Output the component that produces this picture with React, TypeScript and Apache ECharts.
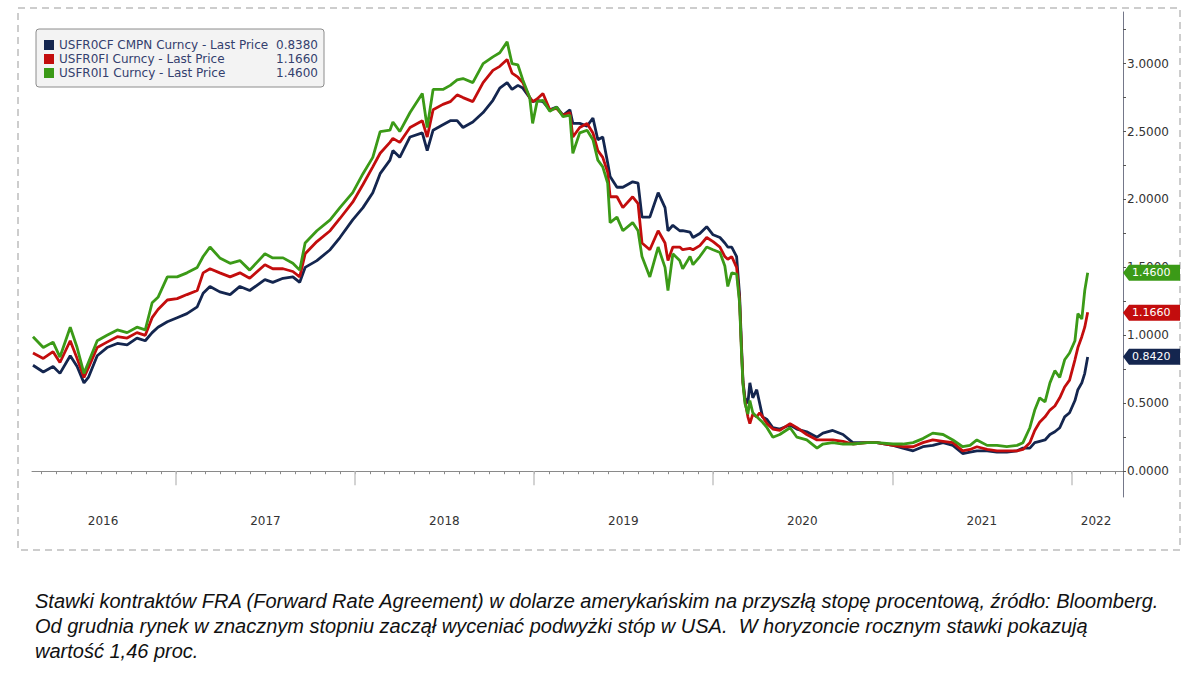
import React, { useEffect, useRef } from 'react';
import * as echarts from 'echarts';

const dates = [
  '2016-03-15','2016-04-05','2016-04-25','2016-05-09','2016-05-30','2016-06-13','2016-06-27','2016-07-06','2016-07-24','2016-08-13',
  '2016-09-03','2016-09-23','2016-10-13','2016-10-30','2016-11-13','2016-11-25','2016-12-14','2017-01-03','2017-01-23','2017-02-13',
  '2017-02-25','2017-03-11','2017-03-31','2017-04-21','2017-05-11','2017-05-31','2017-07-01','2017-07-17','2017-08-07','2017-08-27',
  '2017-09-10','2017-09-21','2017-10-15','2017-11-11','2017-12-01','2017-12-27','2018-01-17','2018-02-06','2018-02-21','2018-03-13',
  '2018-03-19','2018-04-02','2018-04-23','2018-05-18','2018-05-28','2018-06-09','2018-06-29','2018-07-14','2018-07-28','2018-08-09',
  '2018-08-29','2018-09-19','2018-10-09','2018-10-23','2018-11-07','2018-11-17','2018-11-29','2018-12-09','2018-12-23','2018-12-29',
  '2019-01-07','2019-01-19','2019-02-02','2019-02-16','2019-03-01','2019-03-15','2019-03-21','2019-04-04','2019-04-19','2019-05-01',
  '2019-05-11','2019-05-21','2019-05-31','2019-06-05','2019-06-19','2019-07-01','2019-07-21','2019-08-01','2019-08-09','2019-08-25',
  '2019-09-11','2019-09-25','2019-10-01','2019-10-11','2019-10-25','2019-10-31','2019-11-15','2019-11-21','2019-12-05','2019-12-19',
  '2020-01-01','2020-01-15','2020-01-25','2020-01-31','2020-02-08','2020-02-18','2020-02-24','2020-02-28','2020-03-02','2020-03-06',
  '2020-03-12','2020-03-16','2020-03-22','2020-03-30','2020-04-05','2020-04-11','2020-04-20','2020-05-02','2020-05-16','2020-06-06',
  '2020-06-20','2020-07-10','2020-07-31','2020-08-12','2020-09-01','2020-09-22','2020-10-12','2020-11-10','2020-11-30','2021-01-02',
  '2021-01-22','2021-02-12','2021-03-04','2021-03-24','2021-04-14','2021-05-04','2021-05-24','2021-06-08','2021-06-22','2021-07-13',
  '2021-08-02','2021-08-22','2021-09-12','2021-09-24','2021-10-08','2021-10-18','2021-10-28','2021-11-08','2021-11-18','2021-11-28',
  '2021-12-08','2021-12-18','2021-12-28','2022-01-08','2022-01-14','2022-01-22','2022-01-28','2022-02-03',
];

const navy = [
  0.78,0.73,0.77,0.72,0.85,0.77,0.65,0.69,0.85,0.91,
  0.94,0.93,0.98,0.96,1.02,1.06,1.10,1.13,1.16,1.21,
  1.31,1.36,1.32,1.30,1.36,1.33,1.41,1.39,1.42,1.43,
  1.39,1.50,1.55,1.63,1.72,1.85,1.94,2.05,2.19,2.29,
  2.36,2.31,2.46,2.49,2.36,2.51,2.55,2.58,2.58,2.53,
  2.57,2.64,2.73,2.82,2.86,2.81,2.84,2.82,2.75,2.72,
  2.73,2.72,2.66,2.68,2.62,2.66,2.56,2.56,2.54,2.60,
  2.44,2.46,2.27,2.17,2.09,2.09,2.13,2.12,1.87,1.87,
  2.05,1.94,1.77,1.81,1.77,1.77,1.76,1.72,1.75,1.80,
  1.74,1.72,1.68,1.65,1.65,1.58,1.30,0.92,0.66,0.54,
  0.50,0.65,0.54,0.60,0.50,0.40,0.38,0.32,0.31,0.34,
  0.31,0.29,0.25,0.28,0.30,0.27,0.21,0.21,0.21,0.19,
  0.17,0.15,0.18,0.19,0.21,0.19,0.13,0.14,0.15,0.15,
  0.14,0.14,0.15,0.17,0.17,0.21,0.22,0.23,0.27,0.29,
  0.32,0.40,0.43,0.52,0.60,0.65,0.72,0.84,
];

const red = [
  0.87,0.83,0.88,0.80,0.96,0.83,0.69,0.76,0.91,0.95,
  0.99,0.98,1.02,1.00,1.13,1.19,1.26,1.27,1.30,1.33,
  1.46,1.49,1.46,1.43,1.46,1.42,1.52,1.49,1.49,1.47,
  1.43,1.60,1.69,1.77,1.86,1.98,2.11,2.24,2.34,2.42,
  2.45,2.42,2.53,2.58,2.46,2.66,2.70,2.72,2.77,2.75,
  2.72,2.86,2.95,2.98,3.03,2.93,2.90,2.86,2.75,2.72,
  2.74,2.78,2.66,2.67,2.62,2.64,2.46,2.53,2.56,2.49,
  2.36,2.31,2.20,2.02,2.02,1.94,2.02,1.97,1.68,1.63,
  1.77,1.68,1.55,1.65,1.65,1.63,1.64,1.63,1.66,1.72,
  1.69,1.65,1.58,1.56,1.58,1.50,1.26,0.89,0.65,0.52,
  0.40,0.35,0.42,0.40,0.43,0.40,0.35,0.31,0.30,0.35,
  0.32,0.27,0.23,0.23,0.23,0.22,0.20,0.21,0.21,0.19,
  0.18,0.18,0.21,0.23,0.22,0.21,0.15,0.16,0.18,0.16,
  0.15,0.15,0.15,0.16,0.21,0.30,0.36,0.40,0.45,0.48,
  0.54,0.62,0.67,0.82,0.91,0.99,1.06,1.17,
];

const green = [
  0.99,0.91,0.95,0.84,1.06,0.91,0.72,0.80,0.96,1.00,
  1.04,1.02,1.06,1.04,1.24,1.28,1.43,1.43,1.46,1.50,
  1.58,1.65,1.57,1.53,1.55,1.48,1.60,1.57,1.57,1.53,
  1.48,1.68,1.77,1.85,1.94,2.05,2.19,2.31,2.50,2.51,
  2.57,2.50,2.64,2.78,2.53,2.81,2.81,2.84,2.88,2.89,
  2.86,3.00,3.05,3.08,3.16,3.00,2.99,2.88,2.75,2.56,
  2.72,2.73,2.65,2.68,2.61,2.62,2.34,2.49,2.51,2.44,
  2.29,2.24,2.12,1.83,1.87,1.77,1.83,1.77,1.58,1.43,
  1.65,1.50,1.33,1.60,1.55,1.49,1.58,1.52,1.58,1.65,
  1.63,1.61,1.51,1.36,1.46,1.45,1.24,0.87,0.64,0.50,
  0.42,0.52,0.43,0.40,0.38,0.36,0.32,0.25,0.27,0.32,
  0.25,0.23,0.17,0.20,0.21,0.20,0.20,0.21,0.21,0.20,
  0.20,0.21,0.24,0.28,0.27,0.23,0.18,0.19,0.23,0.19,
  0.19,0.18,0.19,0.21,0.32,0.45,0.54,0.51,0.65,0.74,
  0.69,0.82,0.87,0.96,1.16,1.12,1.33,1.46,
];

const seriesNames = [
  'USFR0CF CMPN Curncy - Last Price',
  'USFR0FI Curncy - Last Price',
  'USFR0I1 Curncy - Last Price',
];
const legendValues = ['0.8380', '1.1660', '1.4600'];
const tagValues = [0.842, 1.166, 1.46];
const tagLabels = ['0.8420', '1.1660', '1.4600'];
const colors = ['#14264f', '#c30d0d', '#3b9a17'];

const yLabelValues = [0, 0.5, 1, 1.5, 2, 2.5, 3];
const yTickValues = [0, 0.25, 0.5, 0.75, 1, 1.25, 1.5, 1.75, 2, 2.25, 2.5, 2.75, 3, 3.25];
const yearStarts = ['2017-01-01', '2018-01-01', '2019-01-01', '2020-01-01', '2021-01-01', '2022-01-01'];
const yearLabelDates = ['2016-08-05', '2017-07-02', '2018-07-02', '2019-07-02', '2020-07-01', '2021-07-02', '2022-02-20'];
const xMin = '2016-03-13';
const xMax = '2022-04-16';

const captionLines = [
  'Stawki kontraktów FRA (Forward Rate Agreement) w dolarze amerykańskim na przyszłą stopę procentową, źródło: Bloomberg.',
  'Od grudnia rynek w znacznym stopniu zaczął wyceniać podwyżki stóp w USA.  W horyzoncie rocznym stawki pokazują',
  'wartość 1,46 proc.',
];

const ts = (s: string) => new Date(s + 'T00:00:00').getTime();

// month starts for the small axis ticks
const monthTicks: number[] = [];
for (let y = 2016; y <= 2022; y++) {
  for (let m = 0; m < 12; m++) {
    const t = new Date(y, m, 1).getTime();
    if (t >= ts(xMin) && t <= ts(xMax)) monthTicks.push(t);
  }
}

export default function App() {
  const ref = useRef<HTMLDivElement>(null);

  useEffect(() => {
    if (!ref.current) return;
    const chart = echarts.init(ref.current, null, { renderer: 'svg' });
    const seriesData = [navy, red, green];
    const X0 = ts(xMin);
    const X1 = ts(xMax);

    const option: any = {
      animation: false,
      backgroundColor: '#ffffff',
      grid: [
        { left: 32, right: 77, top: 12, bottom: 183 },
        { left: 32, right: 77, top: 12, bottom: 183 },
      ],
      legend: {
        data: seriesNames,
        orient: 'vertical',
        left: 36,
        top: 29,
        icon: 'rect',
        itemWidth: 10,
        itemHeight: 10,
        itemGap: 2,
        padding: [10, 6, 8, 8],
        backgroundColor: '#f3f3f3',
        borderColor: '#8c8c8c',
        borderWidth: 1,
        borderRadius: 3,
        selectedMode: false,
        formatter: (name: string) => {
          const i = seriesNames.indexOf(name);
          return '{n|' + name + '}{v|' + legendValues[i] + '}';
        },
        textStyle: {
          fontFamily: 'DejaVu Sans',
          fontSize: 12,
          color: '#34406e',
          rich: {
            n: { width: 217, align: 'left', fontFamily: 'DejaVu Sans', fontSize: 12, color: '#34406e', lineHeight: 14 },
            v: { width: 42, align: 'right', fontFamily: 'DejaVu Sans', fontSize: 12, color: '#34406e', lineHeight: 14 },
          },
        },
      },
      xAxis: [
        {
          type: 'value',
          gridIndex: 0,
          min: X0,
          max: X1,
          position: 'bottom',
          axisLine: { show: true, lineStyle: { color: '#8a8a8a', width: 1 } },
          axisTick: { show: true, length: 3, customValues: monthTicks, lineStyle: { color: '#8a8a8a', width: 1 } },
          axisLabel: { show: false },
          splitLine: { show: false },
        },
        {
          type: 'value',
          gridIndex: 1,
          min: X0,
          max: X1,
          position: 'bottom',
          offset: 17,
          axisLine: { show: false },
          axisTick: {
            show: true,
            length: 14,
            customValues: yearStarts.map(ts),
            lineStyle: { color: '#c4c4c4', width: 1.5 },
          },
          axisLabel: {
            show: true,
            customValues: yearLabelDates.map(ts),
            formatter: (v: number) => String(new Date(v).getFullYear()),
            margin: 1,
            fontFamily: 'DejaVu Sans',
            fontSize: 12,
            color: '#333333',
          },
          splitLine: { show: false },
        },
      ],
      yAxis: [
        {
          type: 'value',
          gridIndex: 0,
          position: 'right',
          min: -0.19,
          max: 3.38,
          axisLine: { show: true, lineStyle: { color: '#747789', width: 1 } },
          axisTick: {
            show: true,
            length: 3,
            customValues: yTickValues,
            lineStyle: { color: '#555', width: 1 },
          },
          axisLabel: {
            show: true,
            customValues: yLabelValues,
            formatter: (v: number) => v.toFixed(4),
            margin: 4,
            fontFamily: 'DejaVu Sans',
            fontSize: 12,
            color: '#333333',
          },
          splitLine: { show: false },
        },
        { type: 'value', gridIndex: 1, show: false, min: -0.19, max: 3.38 },
      ],
      series: seriesNames.map((name, k) => ({
        name,
        type: 'line',
        xAxisIndex: 0,
        yAxisIndex: 0,
        showSymbol: false,
        symbol: 'none',
        data: dates.map((d, i) => [ts(d), seriesData[k][i]]),
        itemStyle: { color: colors[k] },
        lineStyle: { color: colors[k], width: 2.8 },
        z: 2 + k,
      })),
    };

    chart.setOption(option);

    const elements: any[] = [
      {
        type: 'rect',
        id: 'frame',
        shape: { x: 18, y: 8, width: 1162, height: 542 },
        style: { fill: 'none', stroke: '#bdbdbd', lineWidth: 1.5, lineDash: [7, 5] },
        z: 1,
      },
    ];

    tagValues.forEach((v, k) => {
      const p = chart.convertToPixel({ gridIndex: 0 }, [X1, v]) as number[];
      const x0 = p[0];
      const y = p[1];
      elements.push({
        type: 'polygon',
        id: 'tag' + k,
        shape: {
          points: [
            [x0, y],
            [x0 + 6, y - 8],
            [x0 + 57, y - 8],
            [x0 + 57, y + 8],
            [x0 + 6, y + 8],
          ],
        },
        style: { fill: colors[k] },
        z: 100,
      });
      elements.push({
        type: 'text',
        id: 'tagt' + k,
        x: x0 + 9,
        y: y,
        style: {
          text: tagLabels[k],
          fill: '#ffffff',
          fontFamily: 'DejaVu Sans',
          fontSize: 11,
          verticalAlign: 'middle',
          align: 'left',
        },
        z: 101,
      });
    });

    captionLines.forEach((line, i) => {
      elements.push({
        type: 'text',
        id: 'cap' + i,
        x: 35,
        y: 601 + i * 25,
        style: {
          text: line,
          fill: '#111111',
          fontFamily: 'Liberation Sans',
          fontStyle: 'italic',
          fontSize: 20,
          lineHeight: 22,
          verticalAlign: 'middle',
          align: 'left',
        },
        z: 10,
      });
    });

    chart.setOption({ graphic: { elements } });

    return () => {
      chart.dispose();
    };
  }, []);

  return (
    <div
      ref={ref}
      style={{ position: 'fixed', left: 0, top: 0, width: 1200, height: 680, background: '#fff' }}
    />
  );
}
